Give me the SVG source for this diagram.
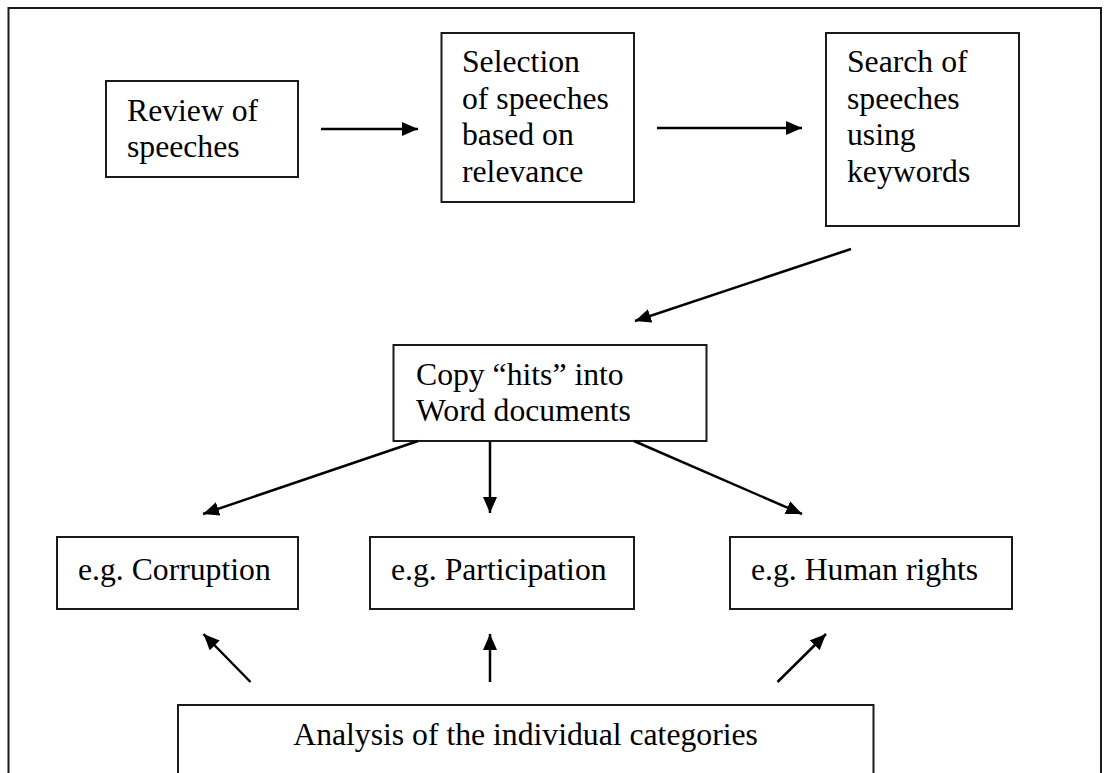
<svg xmlns="http://www.w3.org/2000/svg" width="1110" height="773" viewBox="0 0 1110 773">
<style>
  .box{fill:#fff;stroke:#1a1a1a;stroke-width:2}
  .lbl{font-family:"Liberation Serif","Times New Roman",serif;font-size:31.7px;fill:#000}
  .conn{stroke:#000;stroke-width:2.5;fill:none;marker-end:url(#ah)}
</style>
<defs>
  <marker id="ah" markerUnits="userSpaceOnUse" markerWidth="17" markerHeight="14" refX="16" refY="7" orient="auto">
    <path d="M0,0 L16,7 L0,14 z" fill="#000"/>
  </marker>
</defs>
<rect width="1110" height="773" fill="#fff"/>
<path d="M8.5,780 V8 H1101 V780" fill="none" stroke="#1a1a1a" stroke-width="2"/>
<g id="review">
  <rect class="box" x="106" y="81" width="192" height="96"/>
  <text class="lbl" x="127" y="121">Review of</text>
  <text class="lbl" x="127" y="157">speeches</text>
</g>
<g id="selection">
  <rect class="box" x="441.5" y="33" width="192.5" height="169"/>
  <text class="lbl" x="462" y="72">Selection</text>
  <text class="lbl" x="462" y="108.5">of speeches</text>
  <text class="lbl" x="462" y="145">based on</text>
  <text class="lbl" x="462" y="181.5">relevance</text>
</g>
<g id="search">
  <rect class="box" x="826" y="33" width="193" height="193"/>
  <text class="lbl" x="847" y="72">Search of</text>
  <text class="lbl" x="847" y="108.5">speeches</text>
  <text class="lbl" x="847" y="145">using</text>
  <text class="lbl" x="847" y="181.5">keywords</text>
</g>
<g id="copy">
  <rect class="box" x="393.5" y="345" width="313" height="96"/>
  <text class="lbl" x="416" y="385">Copy “hits” into</text>
  <text class="lbl" x="416" y="421">Word documents</text>
</g>
<g id="corruption">
  <rect class="box" x="57" y="537" width="241" height="72"/>
  <text class="lbl" x="78" y="580">e.g. Corruption</text>
</g>
<g id="participation">
  <rect class="box" x="370" y="537" width="264" height="72"/>
  <text class="lbl" x="391" y="580">e.g. Participation</text>
</g>
<g id="humanrights">
  <rect class="box" x="730" y="537" width="282" height="72"/>
  <text class="lbl" x="751" y="580">e.g. Human rights</text>
</g>
<g id="analysis">
  <rect class="box" x="178" y="705" width="695.5" height="90"/>
  <text class="lbl" x="525.6" y="745" text-anchor="middle">Analysis of the individual categories</text>
</g>
<g id="connectors">
  <line class="conn" x1="321" y1="129" x2="418" y2="129"/>
  <line class="conn" x1="657" y1="128" x2="802" y2="128"/>
  <line class="conn" x1="851" y1="249" x2="635" y2="321"/>
  <line class="conn" x1="418" y1="441" x2="203" y2="514"/>
  <line class="conn" x1="490" y1="441" x2="490" y2="513"/>
  <line class="conn" x1="634" y1="441" x2="802" y2="514"/>
  <line class="conn" x1="250.5" y1="682" x2="203.5" y2="634"/>
  <line class="conn" x1="490" y1="682" x2="490" y2="634"/>
  <line class="conn" x1="777.5" y1="682" x2="826" y2="634"/>
</g>
</svg>
